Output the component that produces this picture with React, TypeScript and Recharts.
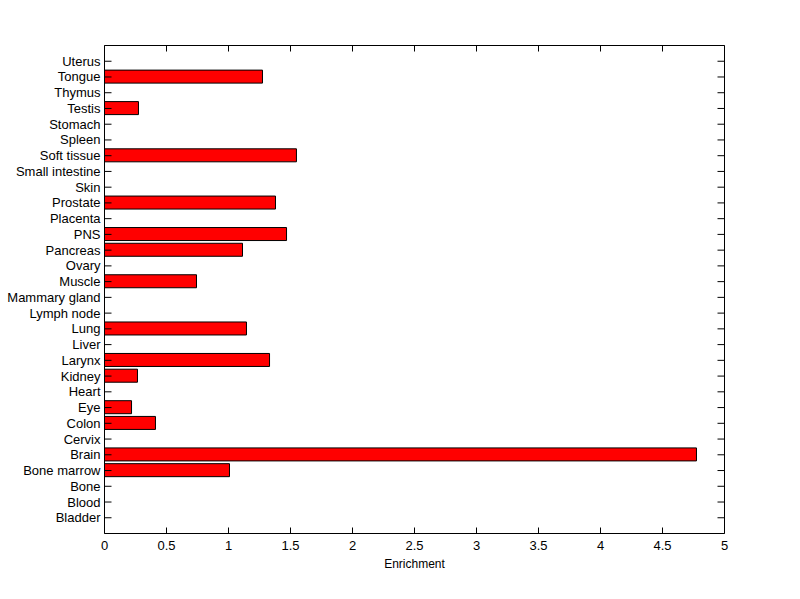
import { BarChart, Bar, XAxis, YAxis, ReferenceLine } from "recharts";

const CATEGORIES = [
  'Bladder', 'Blood', 'Bone', 'Bone marrow', 'Brain', 'Cervix', 'Colon', 'Eye', 'Heart', 'Kidney',
  'Larynx', 'Liver', 'Lung', 'Lymph node', 'Mammary gland', 'Muscle', 'Ovary', 'Pancreas', 'PNS', 'Placenta',
  'Prostate', 'Skin', 'Small intestine', 'Soft tissue', 'Spleen', 'Stomach', 'Testis', 'Thymus', 'Tongue', 'Uterus',
];
const ENRICHMENT = [
  0, 0, 0, 1.008, 4.774, 0, 0.411, 0.218, 0, 0.266,
  1.331, 0, 1.145, 0, 0, 0.742, 0, 1.113, 1.468, 0,
  1.379, 0, 0, 1.548, 0, 0, 0.274, 0, 1.274, 0,
];
const X_TICKS = [0, 0.5, 1, 1.5, 2, 2.5, 3, 3.5, 4, 4.5, 5];
const Y_TICKS = CATEGORIES.map((_, i) => i + 1);
const Y_MAX = CATEGORIES.length + 1;

const data = CATEGORIES.map((name, i) => ({ pos: i + 1, name, value: ENRICHMENT[i] }));

const W = 800;
const H = 599;
const MARGIN = { top: 45.5, right: 75.5, bottom: 0.5, left: 0.5 };
const X_AXIS_H = 65;
const PLOT_H = H - MARGIN.top - MARGIN.bottom - X_AXIS_H;

const FONT = 'Liberation Sans, Arial, sans-serif';
const FS = 13;
const line = { stroke: '#000', strokeWidth: 1 };

// tick renderers: label outside, short tick marks pointing into the plot (bottom + top)
const BottomTick = ({ x, y, payload }: any) => (
  <g>
    <line x1={x} y1={y} x2={x} y2={y - 6} {...line} />
    <line x1={x} y1={y - PLOT_H} x2={x} y2={y - PLOT_H + 6} {...line} />
    <text x={x} y={y + 16} textAnchor="middle" fontSize={FS} fontFamily={FONT} fill="#000">
      {payload.value}
    </text>
  </g>
);
const LeftTick = ({ x, y, payload }: any) => (
  <g>
    <line x1={x} y1={y} x2={x + 7} y2={y} {...line} />
    <text x={x - 4} y={y + 4.5} textAnchor="end" fontSize={FS} fontFamily={FONT} fill="#000">
      {CATEGORIES[payload.value - 1] ?? ''}
    </text>
  </g>
);
const RightTick = ({ x, y }: any) => <line x1={x} y1={y} x2={x - 7} y2={y} {...line} />;

export default function App() {
  return (
    <div style={{ position: 'absolute', left: 0, top: 0, width: W, height: H, background: '#fff' }}>
      <BarChart width={W} height={H} data={data} layout="vertical" margin={MARGIN}>
        <XAxis
          xAxisId="b"
          type="number"
          dataKey="value"
          orientation="bottom"
          domain={[0, 5]}
          ticks={X_TICKS}
          height={X_AXIS_H}
          tickSize={0}
          tickMargin={0}
          tickLine={false}
          axisLine={line}
          tick={BottomTick}
          label={{ value: 'Enrichment', position: 'insideBottom', offset: 31, fill: '#000', fontSize: 12, fontFamily: FONT }}
        />
        <YAxis
          yAxisId="l"
          type="number"
          dataKey="pos"
          orientation="left"
          reversed
          domain={[0, Y_MAX]}
          allowDataOverflow
          ticks={Y_TICKS}
          interval={0}
          width={104}
          tickSize={0}
          tickMargin={0}
          tickLine={false}
          axisLine={line}
          tick={LeftTick}
        />
        <YAxis
          yAxisId="r"
          type="number"
          dataKey="pos"
          orientation="right"
          mirror
          reversed
          domain={[0, Y_MAX]}
          allowDataOverflow
          ticks={Y_TICKS}
          interval={0}
          width={1}
          tickSize={0}
          tickMargin={0}
          tickLine={false}
          axisLine={line}
          tick={RightTick}
        />
        <ReferenceLine xAxisId="b" yAxisId="l" y={Y_MAX} stroke="#000" strokeWidth={1} />
        <Bar
          xAxisId="b"
          yAxisId="l"
          dataKey="value"
          fill="#ff0000"
          stroke="#000"
          strokeWidth={1}
          barSize={13}
          isAnimationActive={false}
        />
      </BarChart>
    </div>
  );
}
